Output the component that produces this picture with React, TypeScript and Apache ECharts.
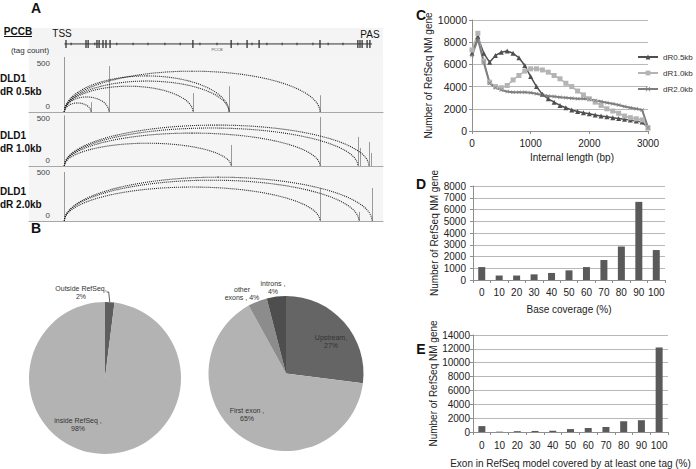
import React, { useEffect, useRef } from "react";
import * as echarts from "echarts";

// ---------- Panel A : PCCB gene model and tag tracks (positions in kb from TSS) ----------
const geneSpan = [0, 86.9];
const geneExons = [0.45, 6.1, 6.7, 9.2, 9.8, 10.9, 11.75, 12.9, 36.3, 47.1, 51.6, 55.0, 72.2, 82.9, 83.5, 84.1, 85.5, 86.3];
const geneIntronMarks = [1.9, 8.6, 14.8, 19.4, 23.6, 28.4, 32.7, 38.3, 43.1, 49.0, 53.0, 57.2, 61.5, 65.7, 70.2, 74.5, 78.7];

// arcs: [start kb, end kb, arc height (tag count units)]
const track1Arcs = [[0, 7.5, 105], [0, 12.6, 175], [0, 36.3, 300], [0, 46.5, 360], [0, 46.5, 420], [0, 72.2, 475]];
const track2Arcs = [[0, 47.1, 270], [0, 72.2, 390], [0, 82.9, 450], [0, 86.0, 485]];
const track3Arcs = [[0, 72.2, 395], [0, 83.2, 475], [0, 86.9, 510]];
// tag counts: [position kb, count]
const track1Tags = [[0, 640], [7.5, 115], [12.6, 535], [36.3, 220], [46.5, 300], [72.2, 195]];
const track2Tags = [[0, 600], [47.1, 250], [72.2, 580], [82.9, 345], [83.4, 215], [86.0, 285], [86.5, 155]];
const track3Tags = [[0, 570], [72.2, 385], [83.2, 105], [86.9, 385]];
const trackNames = ["DLD1\ndR 0.5kb", "DLD1\ndR 1.0kb", "DLD1\ndR 2.0kb"];
const trackTickLabels = [0, 500];

// ---------- Panel B : pies ----------
const pieRefSeq = [
  { name: "Outside RefSeq", value: 2 },
  { name: "inside RefSeq", value: 98 },
];
const pieRefSeqColors = ["#5e5e5e", "#b3b3b3"];
const pieRegion = [
  { name: "Upstream", value: 27 },
  { name: "First exon", value: 65 },
  { name: "other exons", value: 4 },
  { name: "introns", value: 4 },
];
const pieRegionColors = ["#656565", "#b3b3b3", "#8c8c8c", "#4e4e4e"];

// ---------- Panel C : internal length ----------
const lengthBins = [0, 100, 200, 300, 400, 500, 600, 700, 800, 900, 1000, 1100, 1200, 1300, 1400, 1500, 1600, 1700, 1800, 1900, 2000, 2100, 2200, 2300, 2400, 2500, 2600, 2700, 2800, 2900, 3000];
const dR05 = [7000, 8500, 7000, 6200, 6800, 7100, 7200, 7000, 6600, 5900, 4900, 4000, 3300, 2900, 2600, 2300, 2100, 1900, 1750, 1650, 1550, 1450, 1350, 1280, 1200, 1120, 1050, 980, 900, 800, 300];
const dR10 = [7300, 8800, 6300, 4400, 4000, 3900, 4100, 4600, 5000, 5400, 5600, 5600, 5500, 5300, 5000, 4700, 4300, 4000, 3600, 3250, 2900, 2600, 2300, 2000, 1800, 1600, 1350, 1200, 1100, 1000, 300];
const dR20 = [6800, 8300, 6200, 4300, 3900, 3700, 3550, 3500, 3500, 3500, 3450, 3350, 3250, 3150, 3100, 3050, 3000, 2950, 2900, 2900, 2850, 2750, 2650, 2550, 2450, 2350, 2200, 2100, 2000, 1900, 300];

// ---------- Panels D and E ----------
const coverageCats = ["0", "10", "20", "30", "40", "50", "60", "70", "80", "90", "100"];
const baseCoverage = [1100, 380, 380, 480, 600, 820, 1100, 1700, 2850, 6650, 2550];
const exonCoverage = [850, 50, 120, 150, 180, 420, 580, 720, 1550, 1700, 12200];

const FONT = "Liberation Sans";

const pieLabelText = (p: any) => {
  switch (p.name) {
    case "Outside RefSeq": return `Outside RefSeq,\n${p.value}%`;
    case "inside RefSeq": return `inside RefSeq ,\n${p.value}%`;
    case "Upstream": return `Upstream,\n${p.value}%`;
    case "First exon": return `First exon ,\n${p.value}%`;
    case "other exons": return `other\nexons , ${p.value}%`;
    case "introns": return `introns ,\n${p.value}%`;
  }
  return p.name;
};
const pieRefSeqLabelPos = [[81, 292], [78, 424]];
const pieRegionLabelPos = [[331, 341], [247, 414], [242, 293], [273, 287]];

export default function App() {
  const ref = useRef<HTMLDivElement>(null);
  useEffect(() => {
    const chart = echarts.init(ref.current!, null, { renderer: "svg" });
    const GENE_LEVEL = 0.45;
    const plainNum = (v: number) => String(v);

    const arcRender = (params: any, api: any) => {
      const s = api.coord([api.value(0), 0]);
      const e = api.coord([api.value(1), 0]);
      const t = api.coord([api.value(0), api.value(2)]);
      const rx = (e[0] - s[0]) / 2;
      const ry = s[1] - t[1];
      const cx = s[0] + rx;
      const y0 = s[1];
      const k = 0.5523;
      const st = { stroke: "#222", fill: null, lineWidth: 1.1, lineDash: [1, 1] };
      return {
        type: "group",
        children: [
          { type: "bezierCurve", shape: { x1: s[0], y1: y0, cpx1: s[0], cpy1: y0 - k * ry, cpx2: cx - k * rx, cpy2: y0 - ry, x2: cx, y2: y0 - ry }, style: st },
          { type: "bezierCurve", shape: { x1: cx, y1: y0 - ry, cpx1: cx + k * rx, cpy1: y0 - ry, cpx2: e[0], cpy2: y0 - k * ry, x2: e[0], y2: y0 }, style: st },
        ],
      };
    };
    const tagRender = (params: any, api: any) => {
      const b = api.coord([api.value(0), 0]);
      const t = api.coord([api.value(0), api.value(1)]);
      const x = Math.round(b[0]) + 0.5;
      return { type: "line", shape: { x1: x, y1: b[1], x2: x, y2: t[1] }, style: { stroke: "#9a9a9a", lineWidth: 1 } };
    };
    const exonRender = (params: any, api: any) => {
      const c = api.coord([api.value(0), api.value(1)]);
      return { type: "line", shape: { x1: c[0], y1: c[1] - 4, x2: c[0], y2: c[1] + 4 }, style: { stroke: "#222", lineWidth: 1.2 } };
    };
    const intronRender = (params: any, api: any) => {
      const c = api.coord([api.value(0), api.value(1)]);
      return { type: "line", shape: { x1: c[0], y1: c[1] - 1.3, x2: c[0], y2: c[1] + 1.3 }, style: { stroke: "#333", lineWidth: 1 } };
    };

    const trackGrids = [
      { left: 29, right: 313, top: 57, height: 55 },
      { left: 29, right: 313, top: 112, height: 54 },
      { left: 29, right: 313, top: 166, height: 55 },
    ];
    const trackArcs = [track1Arcs, track2Arcs, track3Arcs];
    const trackTags = [track1Tags, track2Tags, track3Tags];

    const grids: any[] = [
      { left: 29, right: 313, top: 28, height: 29, show: true, backgroundColor: "#f4f4f4", borderWidth: 0 },
      ...trackGrids.map((g) => ({ ...g, show: true, backgroundColor: "#f5f5f5", borderWidth: 0 })),
      { left: 472, right: 48, top: 20, height: 111 },
      { left: 473, right: 31, top: 186, height: 94 },
      { left: 473, right: 28, top: 335, height: 97 },
    ];

    const axisGray = "#8f8f8f";
    const splitGray = "#b8b8b8";
    const txt = "#222";

    const xAxes: any[] = [
      { gridIndex: 0, type: "value", min: -10, max: 90, show: false },
      ...[1, 2, 3].map((i) => ({
        gridIndex: i, type: "value", min: -10, max: 90,
        axisLine: { show: true, onZero: false, lineStyle: { color: "#a8a8a8" } },
        axisTick: { show: false }, axisLabel: { show: false }, splitLine: { show: false },
      })),
      {
        gridIndex: 4, type: "value", min: 0, max: 3000, interval: 1000,
        name: "Internal length (bp)", nameLocation: "middle", nameGap: 21,
        nameTextStyle: { fontSize: 10, color: txt, padding: [0, 0, 0, 24] },
        axisLine: { lineStyle: { color: axisGray } }, axisTick: { show: true, length: 3, lineStyle: { color: axisGray } },
        axisLabel: { fontSize: 10, color: txt, margin: 7, formatter: plainNum }, splitLine: { show: false },
      },
      {
        gridIndex: 5, type: "category", data: coverageCats,
        name: "Base coverage (%)", nameLocation: "middle", nameGap: 24,
        nameTextStyle: { fontSize: 10, color: txt },
        axisLine: { lineStyle: { color: axisGray } }, axisTick: { show: true, length: 3, lineStyle: { color: axisGray } },
        axisLabel: { fontSize: 10, color: txt, margin: 7, interval: 0 },
      },
      {
        gridIndex: 6, type: "category", data: coverageCats,
        name: "Exon in RefSeq model covered by at least one tag (%)", nameLocation: "middle", nameGap: 26,
        nameTextStyle: { fontSize: 10, color: txt },
        axisLine: { lineStyle: { color: axisGray } }, axisTick: { show: true, length: 3, lineStyle: { color: axisGray } },
        axisLabel: { fontSize: 10, color: txt, margin: 8, interval: 0 },
      },
    ];
    const yAxes: any[] = [
      { gridIndex: 0, type: "value", min: 0, max: 1, show: false },
      ...[1, 2, 3].map((i) => ({
        gridIndex: i, type: "value", min: 0, max: 640, interval: 500, offset: -26,
        axisLine: { show: false }, axisTick: { show: false }, splitLine: { show: false },
        axisLabel: {
          fontSize: 8, color: "#444", margin: 5, verticalAlign: "bottom", lineHeight: 11,
          formatter: (v: number) => (trackTickLabels.includes(v) ? String(v) : ""),
        },
      })),
      {
        gridIndex: 4, type: "value", min: 0, max: 10000, interval: 2000,
        name: "Number of RefSeq NM gene", nameLocation: "middle", nameGap: 32,
        nameTextStyle: { fontSize: 10, color: txt },
        axisLine: { show: true, lineStyle: { color: axisGray } }, axisTick: { show: true, length: 3, lineStyle: { color: axisGray } },
        axisLabel: { fontSize: 10.5, color: txt, margin: 5, formatter: plainNum }, splitLine: { lineStyle: { color: splitGray } },
      },
      {
        gridIndex: 5, type: "value", min: 0, max: 8000, interval: 1000,
        name: "Number of RefSeq NM gene", nameLocation: "middle", nameGap: 33,
        nameTextStyle: { fontSize: 10, color: txt },
        axisLine: { show: true, lineStyle: { color: axisGray } }, axisTick: { show: true, length: 3, lineStyle: { color: axisGray } },
        axisLabel: { fontSize: 10, color: txt, margin: 7, formatter: plainNum }, splitLine: { lineStyle: { color: splitGray } },
      },
      {
        gridIndex: 6, type: "value", min: 0, max: 14000, interval: 2000,
        name: "Number of RefSeq NM gene", nameLocation: "middle", nameGap: 33,
        nameTextStyle: { fontSize: 10, color: txt },
        axisLine: { show: true, lineStyle: { color: axisGray } }, axisTick: { show: true, length: 3, lineStyle: { color: axisGray } },
        axisLabel: { fontSize: 10, color: txt, margin: 3, formatter: plainNum }, splitLine: { lineStyle: { color: splitGray } },
      },
    ];

    const xSymbol = "path://M0,1 L1,0 L5,4 L9,0 L10,1 L6,5 L10,9 L9,10 L5,6 L1,10 L0,9 L4,5 Z";

    const series: any[] = [
      {
        type: "line", name: "PCCB", xAxisIndex: 0, yAxisIndex: 0, silent: true, symbol: "none",
        data: [[geneSpan[0], GENE_LEVEL], [geneSpan[1], GENE_LEVEL]],
        lineStyle: { color: "#333", width: 1 },
      },
      {
        type: "custom", xAxisIndex: 0, yAxisIndex: 0, silent: true, renderItem: exonRender,
        encode: { x: 0, y: 1 }, data: geneExons.map((v) => [v, GENE_LEVEL]),
      },
      {
        type: "custom", xAxisIndex: 0, yAxisIndex: 0, silent: true, renderItem: intronRender,
        encode: { x: 0, y: 1 }, data: geneIntronMarks.map((v) => [v, GENE_LEVEL]),
      },
    ];
    [0, 1, 2].forEach((i) => {
      series.push({
        type: "custom", xAxisIndex: i + 1, yAxisIndex: i + 1, silent: true, renderItem: tagRender,
        encode: { x: 0, y: 1 }, data: trackTags[i],
      });
      series.push({
        type: "custom", xAxisIndex: i + 1, yAxisIndex: i + 1, silent: true, renderItem: arcRender,
        encode: { x: [0, 1], y: 2 }, data: trackArcs[i],
      });
    });

    const pieLabel = { show: true, position: "outside", formatter: pieLabelText, fontSize: 7, lineHeight: 8, color: "#333333", fontFamily: FONT, textBorderWidth: 0 };

    series.push(
      {
        type: "line", name: "dR0.5kb", xAxisIndex: 4, yAxisIndex: 4,
        data: lengthBins.map((b, i) => [b, dR05[i]]),
        symbol: "triangle", symbolSize: 5, itemStyle: { color: "#4f4f4f" }, lineStyle: { color: "#4f4f4f", width: 1.5 },
      },
      {
        type: "line", name: "dR1.0kb", xAxisIndex: 4, yAxisIndex: 4,
        data: lengthBins.map((b, i) => [b, dR10[i]]),
        symbol: "rect", symbolSize: 5, itemStyle: { color: "#b4b4b4" }, lineStyle: { color: "#b4b4b4", width: 1.5 },
      },
      {
        type: "line", name: "dR2.0kb", xAxisIndex: 4, yAxisIndex: 4,
        data: lengthBins.map((b, i) => [b, dR20[i]]),
        symbol: xSymbol, symbolSize: 4, itemStyle: { color: "#7e7e7e" }, lineStyle: { color: "#7e7e7e", width: 2 },
      },
      {
        type: "bar", name: "Base coverage", xAxisIndex: 5, yAxisIndex: 5, data: baseCoverage,
        barWidth: 7, itemStyle: { color: "#5a5a5a" },
      },
      {
        type: "bar", name: "Exon coverage", xAxisIndex: 6, yAxisIndex: 6, data: exonCoverage,
        barWidth: 7, itemStyle: { color: "#5a5a5a" },
      },
      {
        type: "pie", name: "RefSeq", center: [105, 378], radius: 76, startAngle: 90, clockwise: true,
        avoidLabelOverlap: false, silent: true,
        data: pieRefSeq.map((d, i) => ({
          ...d, itemStyle: { color: pieRefSeqColors[i] },
          labelLine: { show: i === 0, length: 3, length2: 2, lineStyle: { color: "#333", width: 0.8 } },
        })),
        label: pieLabel,
        labelLayout: (p: any) => {
          const pos = pieRefSeqLabelPos[p.dataIndex];
          return { x: pos[0], y: pos[1], align: "center", verticalAlign: "middle" };
        },
      },
      {
        type: "pie", name: "Region", center: [286, 373.5], radius: 77.5, startAngle: 90, clockwise: true,
        avoidLabelOverlap: false, silent: true,
        data: pieRegion.map((d, i) => ({ ...d, itemStyle: { color: pieRegionColors[i] } })),
        label: pieLabel,
        labelLine: { show: false },
        labelLayout: (p: any) => {
          const pos = pieRegionLabelPos[p.dataIndex];
          return { x: pos[0], y: pos[1], align: "center", verticalAlign: "middle" };
        },
      }
    );

    const bold = (text: string, x: number, y: number, size: number, align = "center") => ({
      type: "text", x, y, silent: true,
      style: { text, fontSize: size, fontWeight: "bold", fontFamily: FONT, fill: "#111", align, verticalAlign: "middle", lineHeight: 13 },
    });
    const plain = (text: string, x: number, y: number, size: number, fill = "#111") => ({
      type: "text", x, y, silent: true,
      style: { text, fontSize: size, fontFamily: FONT, fill, align: "center", verticalAlign: "middle" },
    });

    const graphic: any[] = [
      bold("A", 36, 8, 14), bold("B", 36, 228, 14), bold("C", 421, 15, 14), bold("D", 421, 184, 14), bold("E", 421, 349, 14),
      bold("PCCB", 18, 31, 10),
      { type: "line", silent: true, shape: { x1: 4, y1: 36.5, x2: 32, y2: 36.5 }, style: { stroke: "#111", lineWidth: 1 } },
      plain("TSS", 62, 33, 10),
      plain("PAS", 370, 34, 10),
      plain("(tag count)", 30, 50, 8, "#333"),
      plain("PCCB", 217, 49, 4, "#555"),
      bold(trackNames[0], 0, 84.5, 10, "left"),
      bold(trackNames[1], 0, 142, 10, "left"),
      bold(trackNames[2], 0, 197.5, 10, "left"),
    ];

    chart.setOption({
      animation: false,
      textStyle: { fontFamily: FONT },
      grid: grids,
      xAxis: xAxes,
      yAxis: yAxes,
      legend: {
        data: ["dR0.5kb", "dR1.0kb", "dR2.0kb"],
        orient: "vertical", left: 632, top: 47, itemWidth: 20, itemHeight: 6, itemGap: 6,
        textStyle: { fontSize: 8, color: "#333", lineHeight: 10 },
      },
      series,
      graphic,
    });
    return () => chart.dispose();
  }, []);
  return <div ref={ref} style={{ position: "absolute", left: 0, top: 0, width: 696, height: 469 }} />;
}
